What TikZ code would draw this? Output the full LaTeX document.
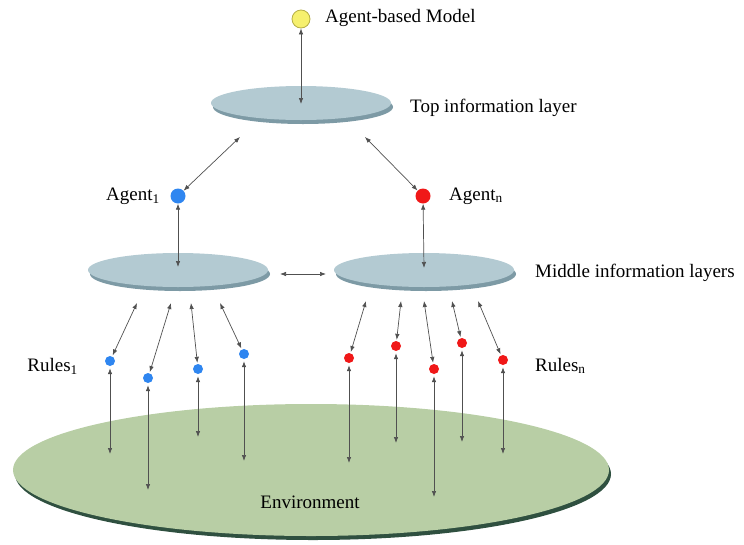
\documentclass[tikz,border=0pt]{standalone}
\usepackage{fontspec}
\setmainfont{Liberation Serif}
\usetikzlibrary{arrows.meta}
\definecolor{diskface}{HTML}{B3CAD2}
\definecolor{diskrim}{HTML}{7D9AA5}
\definecolor{envface}{HTML}{B8CEA5}
\definecolor{envrim}{HTML}{2F5040}
\definecolor{agentblue}{HTML}{2F86F0}
\definecolor{agentred}{HTML}{F01818}
\definecolor{modelyellow}{HTML}{F6F06E}
\definecolor{modeledge}{HTML}{B5AE45}
\definecolor{linkgray}{HTML}{505050}
\tikzset{
  link/.style={draw=linkgray, line width=0.7pt, {Latex[length=6pt,width=4.5pt]}-{Latex[length=6pt,width=4.5pt]}},
  bluedot/.style={circle, fill=agentblue, inner sep=0pt, minimum size=#1},
  bluedot/.default=10pt,
  reddot/.style={circle, fill=agentred, inner sep=0pt, minimum size=#1},
  reddot/.default=10pt,
  lbl/.style={font=\fontsize{19}{22}\selectfont, inner sep=0pt},
}
% a flat disc: darker rim below, lighter face on top
\newcommand\flatdisc[6]{%
  \fill[#6] (#1+2,#2+4) ellipse [x radius=#3, y radius=#4];
  \fill[#5] (#1,#2) ellipse [x radius=#3, y radius=#4];
}
\begin{document}
\begin{tikzpicture}[x=1pt,y=-1pt]
\useasboundingbox (0,0) rectangle (744,544);

% layers
\flatdisc{311}{470}{298}{66}{envface}{envrim}
\flatdisc{301}{103}{90}{17}{diskface}{diskrim}
\flatdisc{178}{270}{90}{17}{diskface}{diskrim}
\flatdisc{424}{270}{90}{17}{diskface}{diskrim}

% model, agents, rules
\node[circle, fill=modelyellow, draw=modeledge, line width=0.8pt, inner sep=0pt, minimum size=18pt] (model) at (301,19) {};
\node[bluedot=15pt] (ag1) at (178,196) {};
\node[reddot=15pt] (agn) at (423,196) {};

\node[bluedot] (b1) at (110,361) {};
\node[bluedot] (b2) at (148,378) {};
\node[bluedot] (b3) at (198,369) {};
\node[bluedot] (b4) at (244,354) {};

\node[reddot] (r1) at (349,358) {};
\node[reddot] (r2) at (396,346) {};
\node[reddot] (r3) at (434,369) {};
\node[reddot] (r4) at (462,343) {};
\node[reddot] (r5) at (503,360) {};

% labels
\node[lbl, anchor=west] (tmodel) at (325,18) {Agent-based Model};
\node[lbl, anchor=west] (ttop) at (410,108) {Top information layer};
\node[lbl, anchor=east] (tag1) at (160,196) {Agent\textsubscript{1}};
\node[lbl, anchor=west] (tagn) at (449,196) {Agent\textsubscript{n}};
\node[lbl, anchor=west] (tmid) at (535,273) {Middle information layers};
\node[lbl, anchor=east] (trl1) at (78,366) {Rules\textsubscript{1}};
\node[lbl, anchor=west] (trln) at (535,366) {Rules\textsubscript{n}};
\node[lbl] (tenv) at (310,502) {Environment};

% anchor points on the layers
\coordinate (topc) at (301,104);
\coordinate (topl) at (240,137);
\coordinate (topr) at (365,137);
\coordinate (midlc) at (178,267);
\coordinate (midrc) at (424,268);
\coordinate (midle) at (280,274);
\coordinate (midre) at (326,274);
\coordinate (lu1) at (137,303);
\coordinate (lu2) at (171,303);
\coordinate (lu3) at (191,303);
\coordinate (lu4) at (220,303);
\coordinate (ru1) at (366,301);
\coordinate (ru2) at (401,301);
\coordinate (ru3) at (424,301);
\coordinate (ru4) at (452,301);
\coordinate (ru5) at (478,301);
\coordinate (e1) at (110,454);
\coordinate (e2) at (148,490);
\coordinate (e3) at (198,437);
\coordinate (e4) at (244,461);
\coordinate (f1) at (349,463);
\coordinate (f2) at (396,443);
\coordinate (f3) at (434,497);
\coordinate (f4) at (462,442);
\coordinate (f5) at (503,454);

% connectors
\draw[link] (model) -- (topc);
\draw[link] (topl) -- (ag1);
\draw[link] (topr) -- (agn);
\draw[link] (ag1) -- (midlc);
\draw[link] (agn) -- (midrc);
\draw[link] (midle) -- (midre);

\draw[link, shorten >=1pt] (lu1) -- (b1);
\draw[link, shorten >=1pt] (lu2) -- (b2);
\draw[link, shorten >=1pt] (lu3) -- (b3);
\draw[link, shorten >=1pt] (lu4) -- (b4);
\draw[link, shorten >=1pt] (ru1) -- (r1);
\draw[link, shorten >=1pt] (ru2) -- (r2);
\draw[link, shorten >=1pt] (ru3) -- (r3);
\draw[link, shorten >=1pt] (ru4) -- (r4);
\draw[link, shorten >=1pt] (ru5) -- (r5);

\draw[link, shorten <=2pt] (b1) -- (e1);
\draw[link, shorten <=2pt] (b2) -- (e2);
\draw[link, shorten <=2pt] (b3) -- (e3);
\draw[link, shorten <=2pt] (b4) -- (e4);
\draw[link, shorten <=2pt] (r1) -- (f1);
\draw[link, shorten <=2pt] (r2) -- (f2);
\draw[link, shorten <=2pt] (r3) -- (f3);
\draw[link, shorten <=2pt] (r4) -- (f4);
\draw[link, shorten <=2pt] (r5) -- (f5);
\end{tikzpicture}
\end{document}
